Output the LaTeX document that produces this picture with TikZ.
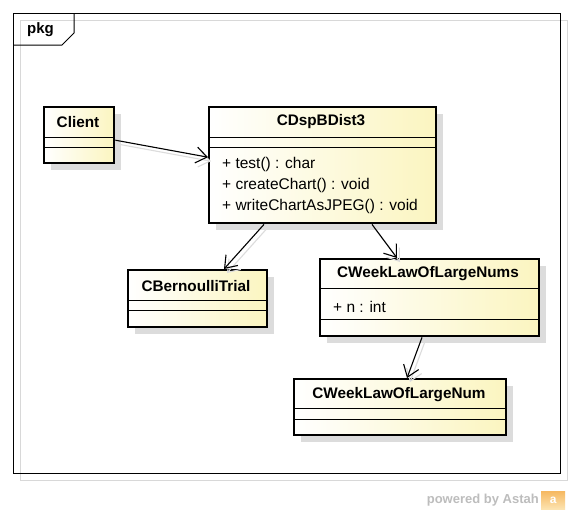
\documentclass[tikz,border=0pt]{standalone}
\usepackage{fontspec}
\setmainfont{Liberation Sans}
\usetikzlibrary{arrows.meta,shadows,calc}
\definecolor{classyellow}{HTML}{FBF5C0}
\definecolor{shadowgray}{HTML}{DCDCDC}
\definecolor{framegray}{HTML}{D8D8D8}
\definecolor{astahgray}{HTML}{BDBDBD}
\definecolor{astahorange}{HTML}{F6B860}
\definecolor{astahlight}{HTML}{FCE3B0}
\tikzset{
  classbox/.style={draw=black, line width=2.4pt, anchor=north west, inner sep=0pt,
    left color=white, right color=classyellow,
    general shadow={fill=shadowgray, shadow xshift=7pt, shadow yshift=-7pt}},
  sepline/.style={draw=black, line width=0.9pt},
  title/.style={font=\bfseries\fontsize{15.3}{17}\selectfont, inner sep=0pt},
  member/.style={font=\fontsize{15.5}{17}\selectfont, inner sep=0pt, anchor=west},
  assoc/.style={draw=black, line width=1.1pt, -{Straight Barb[length=11pt,width=16pt,line width=1.1pt]}},
  assocshadow/.style={draw=shadowgray, line width=1.1pt, -{Straight Barb[length=11pt,width=16pt,line width=1.1pt]}},
}
\begin{document}
\begin{tikzpicture}[x=1pt,y=-1pt]
\useasboundingbox (0,0) rectangle (573,514);
\fill[white] (0,0) rectangle (573,514);

% package frame with its shadow
\draw[framegray, line width=0.9pt] (20,20) rectangle (567,480);
\node[draw=black, line width=1pt, anchor=north west, minimum width=547pt, minimum height=460pt, inner sep=0pt] (frame) at (13,13) {};
\draw[black, line width=1pt] (13,45) -- (62,45) -- (74,33) -- (74,13);
\node[font=\bfseries\fontsize{15}{17}\selectfont, anchor=west, inner sep=0pt] (pkg) at (27,30) {pkg};

% classes
\node[classbox, minimum width=70pt, minimum height=56pt] (client) at (43,106) {};
\node[title] (clientT) at (78,122) {Client};
\draw[sepline] (43,137) -- (113,137);
\draw[sepline] (43,147) -- (113,147);

\node[classbox, minimum width=227pt, minimum height=116pt] (cdsp) at (208,106) {};
\node[title] (cdspT) at (321,122) {CDspBDist3};
\draw[sepline] (208,137) -- (435,137);
\draw[sepline] (208,147) -- (435,147);
\node[member] (m1) at (222,164) {+ test() : char};
\node[member] (m2) at (222,185) {+ createChart() : void};
\node[member] (m3) at (222,206) {+ writeChartAsJPEG() : void};

\node[classbox, minimum width=139pt, minimum height=57pt] (bern) at (127,269) {};
\node[title] (bernT) at (196,286) {CBernoulliTrial};
\draw[sepline] (127,300) -- (266,300);
\draw[sepline] (127,310) -- (266,310);

\node[classbox, minimum width=219pt, minimum height=77pt] (nums) at (319,258) {};
\node[title] (numsT) at (428,274) {CWeekLawOfLargeNums};
\draw[sepline] (319,288) -- (538,288);
\node[member] (n1) at (333,307) {+ n : int};
\draw[sepline] (319,319) -- (538,319);

\node[classbox, minimum width=212pt, minimum height=56pt] (num) at (293,378) {};
\node[title] (numT) at (399,395) {CWeekLawOfLargeNum};
\draw[sepline] (293,408) -- (505,408);
\draw[sepline] (293,419) -- (505,419);

% association shadows
\begin{scope}[transform canvas={xshift=3pt,yshift=-4pt}]
\draw[assocshadow] ([yshift=-5pt]client.east) -- ([yshift=8pt]cdsp.west);
\draw[assocshadow] ([xshift=56pt]cdsp.south west) -- ([xshift=97pt]bern.north west);
\draw[assocshadow] ([xshift=164pt]cdsp.south west) -- ([xshift=78pt]nums.north west);
\draw[assocshadow] ([xshift=103pt]nums.south west) -- ([xshift=114pt]num.north west);
\end{scope}

% associations
\draw[assoc] ([yshift=-5pt]client.east) -- ([yshift=8pt]cdsp.west);
\draw[assoc] ([xshift=56pt]cdsp.south west) -- ([xshift=97pt]bern.north west);
\draw[assoc] ([xshift=164pt]cdsp.south west) -- ([xshift=78pt]nums.north west);
\draw[assoc] ([xshift=103pt]nums.south west) -- ([xshift=114pt]num.north west);

% footer
\node[font=\bfseries\fontsize{13}{15}\selectfont, text=astahgray, anchor=east, inner sep=0pt] (powered) at (539,500) {powered by Astah};
\node[top color=astahorange, bottom color=astahlight, minimum width=24pt, minimum height=18pt, anchor=west, inner sep=0pt,
  font=\bfseries\fontsize{12}{14}\selectfont, text=white] (logo) at (541,500) {a};
\end{tikzpicture}
\end{document}
